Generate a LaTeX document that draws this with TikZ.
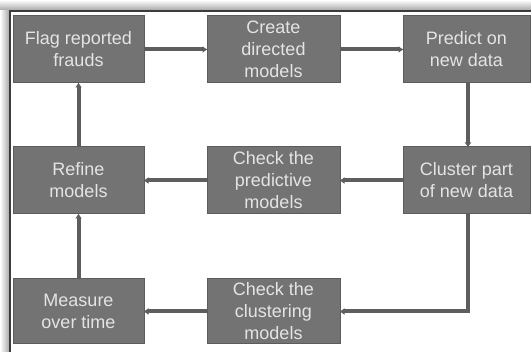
\documentclass[tikz,border=0pt]{standalone}
\usepackage{fontspec}
\setmainfont{Liberation Sans}
\usetikzlibrary{arrows.meta,positioning}
\definecolor{boxfill}{HTML}{737373}
\definecolor{boxline}{HTML}{5C5C5C}
\definecolor{boxtext}{HTML}{E4E4E4}
\definecolor{arrowc}{HTML}{5E5E5E}
\definecolor{framec}{HTML}{3C3C3C}
\tikzset{
  stepbox/.style={draw=boxline, line width=1pt, fill=boxfill, text=boxtext,
    inner sep=0pt, align=center, font=\fontsize{18}{22}\selectfont},
  flow/.style={draw=arrowc, line width=4pt, -{Latex[length=5pt,width=7pt]}, shorten >=-1pt}
}
\begin{document}
\begin{tikzpicture}[x=1pt,y=-1pt]
\useasboundingbox (0,0) rectangle (531,352);
% shadow of frame
\shade[top color=white, bottom color=black!35] (0,0) rectangle (531,10.5);
\shade[left color=white, right color=black!35] (0,10.5) rectangle (9.5,352);
\fill[white] (10,11) rectangle (531,352);
\draw[framec, line width=1.5pt] (10,352) -- (10,11) -- (531,11);
% boxes
\node[stepbox, minimum width=131pt, minimum height=67pt] (flag) at (78.5,49.5) {Flag reported\\frauds};
\node[stepbox, minimum width=133pt, minimum height=67pt] (create) at (273.5,49.5) {Create\\directed\\models};
\node[stepbox, minimum width=127pt, minimum height=67pt] (predict) at (466.5,49.5) {Predict on\\new data};
\node[stepbox, minimum width=131pt, minimum height=67pt] (refine) at (78.5,180.5) {Refine\\models};
\node[stepbox, minimum width=133pt, minimum height=67pt] (checkpred) at (273.5,180.5) {Check the\\predictive\\models};
\node[stepbox, minimum width=127pt, minimum height=67pt] (cluster) at (466.5,180.5) {Cluster part\\of new data};
\node[stepbox, minimum width=131pt, minimum height=65pt] (measure) at (78.5,311.5) {Measure\\over time};
\node[stepbox, minimum width=133pt, minimum height=65pt] (checkclu) at (273.5,311.5) {Check the\\clustering\\models};
\coordinate (corner) at (468,311.5);
% connectors
\draw[flow] (flag) -- (create);
\draw[flow] (create) -- (predict);
\draw[flow] (predict.south -| corner) -- (cluster.north -| corner);
\draw[flow] (cluster) -- (checkpred);
\draw[flow] (checkpred) -- (refine);
\draw[flow] (refine) -- (flag);
\draw[flow] (measure) -- (refine);
\draw[flow] (checkclu) -- (measure);
\draw[flow] (cluster.south -| corner) -- (corner) -- (checkclu.east);
\end{tikzpicture}
\end{document}
